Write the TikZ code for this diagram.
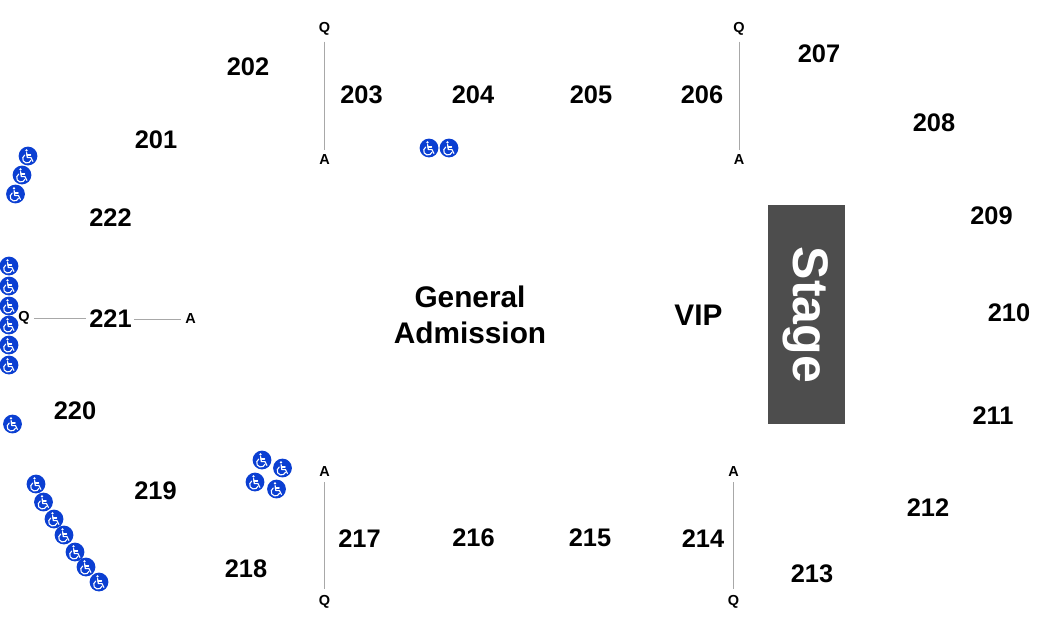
\documentclass[tikz,border=0pt]{standalone}
\usepackage{fontspec}
\setmainfont{Liberation Sans}
\definecolor{wcblue}{HTML}{0B3FD2}
\definecolor{stagegray}{HTML}{4D4D4D}
\definecolor{aisle}{HTML}{A8A8A8}
\tikzset{
  x=1pt,y=-1pt,
  sec/.style={font=\fontsize{25.4}{25}\bfseries\selectfont,text=black,inner sep=0pt,yshift=-0.2pt},
  big/.style={font=\fontsize{29.8}{36}\bfseries\selectfont,text=black,inner sep=0pt,align=center},
  rowlab/.style={font=\fontsize{14.5}{14}\bfseries\selectfont,text=black,inner sep=1pt},
  aisleline/.style={draw=aisle,line width=1pt},
  wheel/.pic={
    \fill[wcblue] (0,0) circle[radius=9.4];
    \fill[white] (-1.5,-5.6) circle[radius=1.3];
    \draw[white,line width=1.2pt,line cap=round,line join=round]
      (-1.4,-3.4) -- (-0.7,1.6) -- (3.0,1.6) -- (4.9,5.4);
    \draw[white,line width=1.2pt,line cap=round]
      (-1.1,-1.0) -- (2.6,-1.0);
    \draw[white,line width=1.1pt,line cap=round]
      (-3.2,-1.0) arc[start angle=240,end angle=20,radius=4.3];
  }
}
\begin{document}
\begin{tikzpicture}
\useasboundingbox (0,0) rectangle (1050,630);
\node[sec] (s201) at (156,140) {201};
\node[sec] (s202) at (248,67) {202};
\node[sec] (s203) at (361.5,95) {203};
\node[sec] (s204) at (473,95) {204};
\node[sec] (s205) at (591,95) {205};
\node[sec] (s206) at (702,95) {206};
\node[sec] (s207) at (819,54) {207};
\node[sec] (s208) at (934,123) {208};
\node[sec] (s209) at (991.5,216) {209};
\node[sec] (s210) at (1009,313) {210};
\node[sec] (s211) at (993,415) {211};
\node[sec] (s212) at (928,507) {212};
\node[sec] (s213) at (812,574) {213};
\node[sec] (s214) at (703,538) {214};
\node[sec] (s215) at (590,538) {215};
\node[sec] (s216) at (473.5,538) {216};
\node[sec] (s217) at (359.5,538) {217};
\node[sec] (s218) at (246,569) {218};
\node[sec] (s219) at (155.5,491) {219};
\node[sec] (s220) at (75,411) {220};
\node[sec] (s221) at (110.5,318) {221};
\node[sec] (s222) at (110.5,217) {222};
\node[big] (ga) at (470,315) {General\\Admission};
\node[big] (vip) at (698.5,315.5) {VIP};
\node[fill=stagegray,minimum width=77pt,minimum height=219pt,inner sep=0pt] (stage) at (806.5,314.5) {};
\node[font=\fontsize{50}{50}\bfseries\selectfont,text=white,rotate=-90,inner sep=0pt] (stagetxt) at (806,315) {Stage};
\node[rowlab] (q1) at (324.5,29) {Q};
\node[rowlab] (a1) at (324.5,160) {A};
\node[rowlab] (q2) at (739,29) {Q};
\node[rowlab] (a2) at (739,160) {A};
\node[rowlab] (a3) at (324.5,472) {A};
\node[rowlab] (q3) at (324.5,602) {Q};
\node[rowlab] (a4) at (733.5,472) {A};
\node[rowlab] (q4) at (733.5,602) {Q};
\node[rowlab] (q5) at (24,318) {Q};
\node[rowlab] (a5) at (190.5,319) {A};
\draw[aisleline,shorten <=5pt,shorten >=4pt] (q1) -- (a1);
\draw[aisleline,shorten <=5pt,shorten >=4pt] (q2) -- (a2);
\draw[aisleline,shorten <=4pt,shorten >=5pt] (a3) -- (q3);
\draw[aisleline,shorten <=4pt,shorten >=5pt] (a4) -- (q4);
\draw[aisleline,shorten <=3pt,shorten >=3pt] (q5.east) -- (s221.west |- q5.east);
\draw[aisleline,shorten <=2pt,shorten >=3pt] (s221.east |- a5.west) -- (a5.west);
\foreach \px/\py in {28/156,22/175,15.5/194,
  9/266,9/286,9/306,9/325,9/345,9/365,12.5/424,
  429/148,449/148,
  262/460,282.5/468,255/482,276.5/489,
  36/484,43.5/502,54/519,64/535,75/552,86/567,99/582}
  \pic at (\px,\py) {wheel};
\end{tikzpicture}
\end{document}
